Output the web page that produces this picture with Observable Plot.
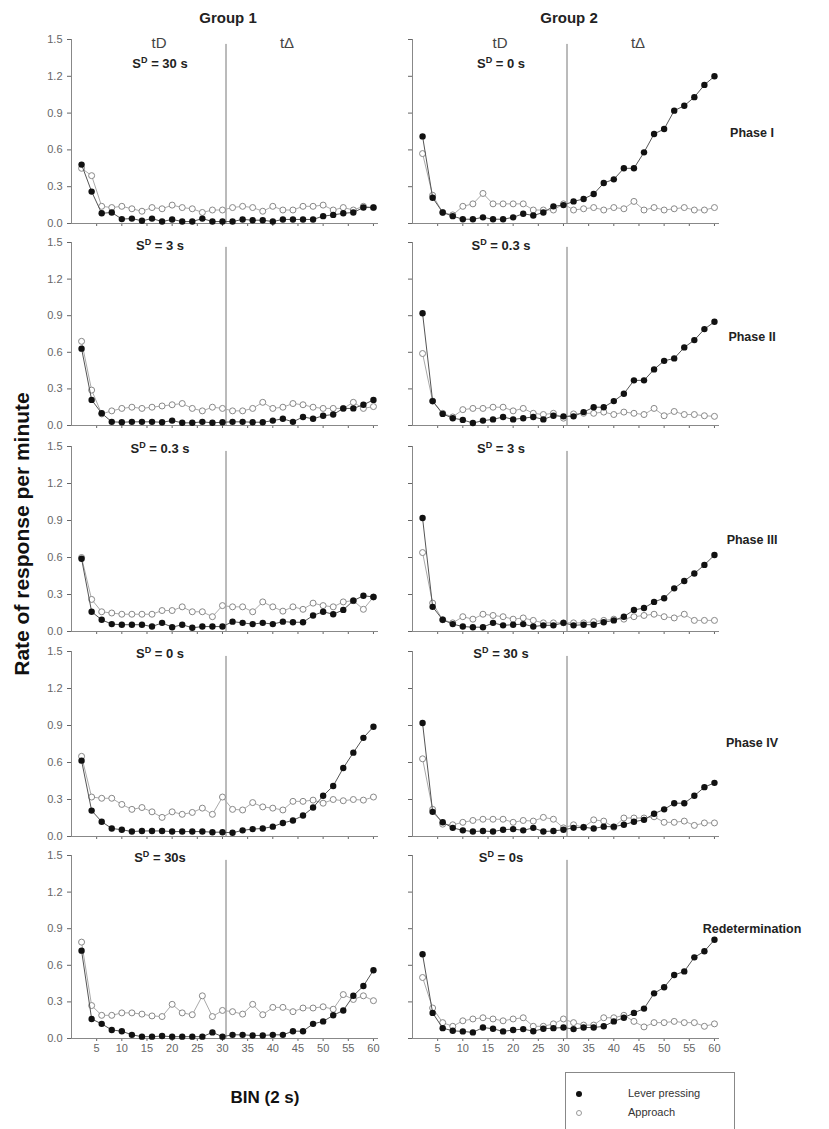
<!DOCTYPE html>
<html>
<head>
<meta charset="utf-8">
<script src="https://cdn.jsdelivr.net/npm/d3@7"></script>
<script src="https://cdn.jsdelivr.net/npm/@observablehq/plot@0.6"></script>
<style>
  html, body { margin: 0; padding: 0; background: #fff; }
  #fig { position: relative; width: 829px; height: 1129px; overflow: hidden; font-family: "Liberation Sans", Arial, sans-serif; color: #222; }
  .abs { position: absolute; white-space: nowrap; transform: translate(-50%, -50%); }
  .panel { position: absolute; }
  .grp { font-weight: bold; font-size: 15px; color: #222; }
  .tt { font-size: 15px; color: #444; }
  .sd { font-weight: bold; font-size: 13px; color: #222; }
  .sd sup { font-size: 9px; vertical-align: 5px; line-height: 0; }
  .ph { font-weight: bold; font-size: 12.5px; color: #222; }
  .ytitle { font-weight: bold; font-size: 21px; color: #111; transform: translate(-50%, -50%) rotate(-90deg); }
  .xtitle { font-weight: bold; font-size: 17px; color: #111; font-family: "Liberation Sans Narrow", "Liberation Sans", Arial, sans-serif; }
  #legend { position: absolute; left: 565px; top: 1072px; width: 170px; height: 60px; border: 1px solid #888; box-sizing: border-box; font-size: 11px; color: #333; font-family: "Liberation Sans Narrow", "Liberation Sans", Arial, sans-serif; }
  #legend .row { position: absolute; left: 10px; height: 14px; }
  #legend .mk { position: absolute; left: 0; top: 4px; width: 6px; height: 6px; border-radius: 50%; box-sizing: border-box; }
  #legend .lb { position: absolute; left: 52px; top: 0; white-space: nowrap; }
</style>
</head>
<body>
<div id="fig"></div>
<script>
// ---------- data ----------
const bins = [2,4,6,8,10,12,14,16,18,20,22,24,26,28,30,32,34,36,38,40,42,44,46,48,50,52,54,56,58,60];
const yTicks = [0, 0.3, 0.6, 0.9, 1.2, 1.5];
const xTicks = [5,10,15,20,25,30,35,40,45,50,55,60];
const groups = ["Group 1", "Group 2"];
const phases = ["Phase I", "Phase II", "Phase III", "Phase IV", "Redetermination"];
const sdLabelsG1 = ["30 s", "3 s", "0.3 s", "0 s", "30s"];
const sdLabelsG2 = ["0 s", "0.3 s", "3 s", "30 s", "0s"];
const seriesNames = ["Lever pressing", "Approach"];

// Group 1
const g1p1Lever    = [0.48,0.26,0.083,0.09,0.036,0.04,0.022,0.04,0.016,0.033,0.016,0.016,0.04,0.016,0.016,0.016,0.033,0.027,0.027,0.016,0.033,0.033,0.033,0.033,0.06,0.07,0.083,0.09,0.13,0.13];
const g1p1Approach = [0.45,0.39,0.14,0.13,0.14,0.12,0.10,0.13,0.12,0.15,0.13,0.12,0.09,0.11,0.11,0.13,0.14,0.13,0.10,0.14,0.11,0.11,0.14,0.14,0.15,0.11,0.13,0.11,0.14,0.13];
const g1p2Lever    = [0.63,0.21,0.10,0.03,0.027,0.03,0.03,0.03,0.027,0.04,0.022,0.022,0.03,0.022,0.027,0.03,0.03,0.027,0.027,0.04,0.055,0.03,0.07,0.055,0.08,0.09,0.14,0.14,0.17,0.21];
const g1p2Approach = [0.69,0.29,0.095,0.12,0.14,0.15,0.14,0.15,0.16,0.17,0.18,0.14,0.12,0.15,0.14,0.12,0.12,0.14,0.19,0.14,0.15,0.18,0.17,0.15,0.14,0.14,0.14,0.19,0.14,0.155];
const g1p3Lever    = [0.59,0.16,0.095,0.06,0.055,0.055,0.055,0.04,0.07,0.035,0.055,0.03,0.04,0.04,0.04,0.08,0.07,0.06,0.07,0.06,0.08,0.075,0.075,0.13,0.16,0.14,0.175,0.25,0.29,0.28];
const g1p3Approach = [0.60,0.26,0.16,0.15,0.14,0.14,0.14,0.14,0.17,0.17,0.20,0.16,0.16,0.12,0.21,0.20,0.20,0.16,0.24,0.20,0.165,0.20,0.18,0.23,0.21,0.20,0.24,0.25,0.18,0.28];
const g1p4Lever    = [0.615,0.21,0.12,0.065,0.055,0.04,0.045,0.045,0.045,0.04,0.04,0.04,0.04,0.035,0.035,0.03,0.05,0.06,0.065,0.08,0.11,0.13,0.17,0.235,0.33,0.41,0.555,0.68,0.80,0.89];
const g1p4Approach = [0.65,0.32,0.31,0.31,0.26,0.22,0.235,0.20,0.155,0.20,0.18,0.195,0.23,0.18,0.32,0.22,0.215,0.275,0.24,0.23,0.215,0.285,0.285,0.295,0.27,0.30,0.29,0.30,0.295,0.32];
const g1p5Lever    = [0.72,0.16,0.12,0.07,0.06,0.03,0.015,0.015,0.02,0.015,0.015,0.015,0.015,0.05,0.015,0.03,0.03,0.025,0.025,0.03,0.03,0.06,0.06,0.12,0.14,0.19,0.23,0.35,0.43,0.56];
const g1p5Approach = [0.79,0.27,0.19,0.19,0.21,0.21,0.20,0.185,0.18,0.28,0.21,0.195,0.35,0.18,0.23,0.22,0.20,0.28,0.195,0.255,0.255,0.22,0.25,0.25,0.26,0.24,0.36,0.32,0.35,0.31];

// Group 2
const g2p1Lever    = [0.71,0.21,0.09,0.06,0.035,0.035,0.05,0.035,0.035,0.05,0.08,0.065,0.09,0.14,0.15,0.18,0.20,0.24,0.33,0.36,0.45,0.45,0.58,0.73,0.77,0.92,0.96,1.03,1.13,1.20];
const g2p1Approach = [0.57,0.23,0.09,0.07,0.14,0.16,0.245,0.16,0.16,0.16,0.16,0.11,0.11,0.11,0.16,0.11,0.12,0.13,0.11,0.13,0.12,0.18,0.11,0.13,0.11,0.12,0.13,0.11,0.11,0.13];
const g2p2Lever    = [0.92,0.20,0.095,0.06,0.046,0.02,0.04,0.05,0.07,0.05,0.06,0.07,0.05,0.08,0.075,0.075,0.11,0.15,0.15,0.20,0.26,0.37,0.37,0.46,0.53,0.55,0.64,0.70,0.79,0.85];
const g2p2Approach = [0.59,0.20,0.10,0.07,0.13,0.14,0.14,0.15,0.15,0.12,0.14,0.10,0.09,0.10,0.06,0.095,0.10,0.10,0.11,0.09,0.11,0.10,0.09,0.14,0.08,0.115,0.09,0.09,0.08,0.075];
const g2p3Lever    = [0.92,0.20,0.095,0.06,0.04,0.035,0.035,0.07,0.05,0.055,0.06,0.04,0.05,0.05,0.07,0.05,0.055,0.055,0.075,0.09,0.12,0.175,0.19,0.24,0.27,0.35,0.41,0.47,0.54,0.62];
const g2p3Approach = [0.64,0.23,0.095,0.07,0.12,0.10,0.14,0.13,0.12,0.10,0.11,0.09,0.07,0.07,0.07,0.07,0.07,0.08,0.09,0.10,0.10,0.12,0.13,0.14,0.12,0.11,0.14,0.09,0.09,0.09];
const g2p4Lever    = [0.92,0.20,0.115,0.07,0.05,0.04,0.045,0.04,0.055,0.06,0.05,0.07,0.04,0.045,0.055,0.07,0.075,0.065,0.08,0.08,0.095,0.12,0.135,0.185,0.22,0.27,0.27,0.33,0.40,0.435];
const g2p4Approach = [0.63,0.22,0.10,0.095,0.115,0.13,0.14,0.14,0.14,0.115,0.13,0.125,0.155,0.14,0.07,0.095,0.075,0.135,0.125,0.075,0.15,0.15,0.15,0.16,0.115,0.115,0.125,0.09,0.11,0.11];
const g2p5Lever    = [0.69,0.21,0.085,0.063,0.058,0.05,0.09,0.08,0.058,0.07,0.077,0.06,0.08,0.085,0.09,0.077,0.09,0.09,0.10,0.14,0.17,0.21,0.245,0.37,0.42,0.52,0.55,0.665,0.715,0.81];
const g2p5Approach = [0.50,0.25,0.13,0.10,0.145,0.16,0.17,0.16,0.145,0.16,0.17,0.10,0.10,0.12,0.16,0.13,0.11,0.11,0.17,0.17,0.19,0.14,0.095,0.13,0.13,0.14,0.13,0.13,0.10,0.12];

const leverByPanel = [[g1p1Lever,g1p2Lever,g1p3Lever,g1p4Lever,g1p5Lever],[g2p1Lever,g2p2Lever,g2p3Lever,g2p4Lever,g2p5Lever]];
const approachByPanel = [[g1p1Approach,g1p2Approach,g1p3Approach,g1p4Approach,g1p5Approach],[g2p1Approach,g2p2Approach,g2p3Approach,g2p4Approach,g2p5Approach]];

// ---------- layout ----------
const fig = document.getElementById("fig");
const rowTop = [39, 242, 446, 651, 855];      // pixel of y = 1.5
const rowBottom = [223, 425, 631, 836, 1038]; // pixel of y = 0
const colLeft = [-1, 340];                    // svg left edge
const mTop = 6, mBottom = 24, mLeft = 72, mRight = 11, svgW = 390;
const divider = 30.7;

function addText(cls, html, x, y) {
  const d = document.createElement("div");
  d.className = "abs " + cls;
  d.innerHTML = html;
  d.style.left = x + "px";
  d.style.top = y + "px";
  fig.appendChild(d);
  return d;
}

for (let c = 0; c < 2; c++) {
  for (let r = 0; r < 5; r++) {
    const data = bins.map((b, i) => ({bin: b, lever: leverByPanel[c][r][i], approach: approachByPanel[c][r][i]}));
    const h = mTop + (rowBottom[r] - rowTop[r]) + mBottom;
    const bottomRow = r === 4;
    const svg = Plot.plot({
      width: svgW,
      height: h,
      marginTop: mTop, marginBottom: mBottom, marginLeft: mLeft, marginRight: mRight,
      style: {background: "transparent", overflow: "visible", fontSize: "11px", fontFamily: "Liberation Sans, Arial, sans-serif", color: "#666"},
      x: {domain: [0, 61], ticks: xTicks, tickSize: 3, tickPadding: 3, label: null,
          tickFormat: bottomRow ? (d => String(d)) : (() => "")},
      y: {domain: [0, 1.5], ticks: yTicks, tickSize: 4, tickPadding: 5, label: null,
          tickFormat: c === 0 ? d3.format(".1f") : (() => "")},
      marks: [
        Plot.ruleX([0], {y1: 0, y2: 1.5, stroke: "#888"}),
        Plot.ruleY([0], {x1: 0, x2: 61, stroke: "#888"}),
        Plot.ruleX([divider], {y1: 0, y2: 1.46, stroke: "#777"}),
        Plot.line(data, {x: "bin", y: "approach", stroke: "#aaa", strokeWidth: 1}),
        Plot.dot(data, {x: "bin", y: "approach", r: 3, stroke: "#888", strokeWidth: 1, fill: "white"}),
        Plot.line(data, {x: "bin", y: "lever", stroke: "#555", strokeWidth: 1}),
        Plot.dot(data, {x: "bin", y: "lever", r: 3.2, fill: "#111", stroke: "none"})
      ]
    });
    svg.classList.add("panel");
    svg.style.position = "absolute";
    svg.style.left = colLeft[c] + "px";
    svg.style.top = (rowTop[r] - mTop) + "px";
    fig.appendChild(svg);
  }
}

// group titles
addText("grp", groups[0], 228, 17);
addText("grp", groups[1], 569, 17);
// tD / tΔ
addText("tt", "tD", 159, 42);
addText("tt", "t&Delta;", 287, 42);
addText("tt", "tD", 500, 42);
addText("tt", "t&Delta;", 638, 42);
// SD labels
const sdY = [63, 245, 448, 653, 857];
for (let r = 0; r < 5; r++) {
  addText("sd", "S<sup>D</sup> = " + sdLabelsG1[r], 160, sdY[r]);
  addText("sd", "S<sup>D</sup> = " + sdLabelsG2[r], 501, sdY[r]);
}
// phase labels
const phY = [133, 337, 540, 743, 929];
phases.forEach((p, i) => addText("ph", p, 752, phY[i]));
// axis titles
addText("ytitle", "Rate of response per minute", 22, 534);
addText("xtitle", "BIN (2 s)", 265, 1098);

// legend
const lg = document.createElement("div");
lg.id = "legend";
lg.innerHTML =
  '<div class="row" style="top:14px"><div class="mk" style="background:#111"></div><div class="lb">' + seriesNames[0] + '</div></div>' +
  '<div class="row" style="top:33px"><div class="mk" style="border:1px solid #999;background:#fff"></div><div class="lb">' + seriesNames[1] + '</div></div>';
fig.appendChild(lg);
</script>
</body>
</html>
